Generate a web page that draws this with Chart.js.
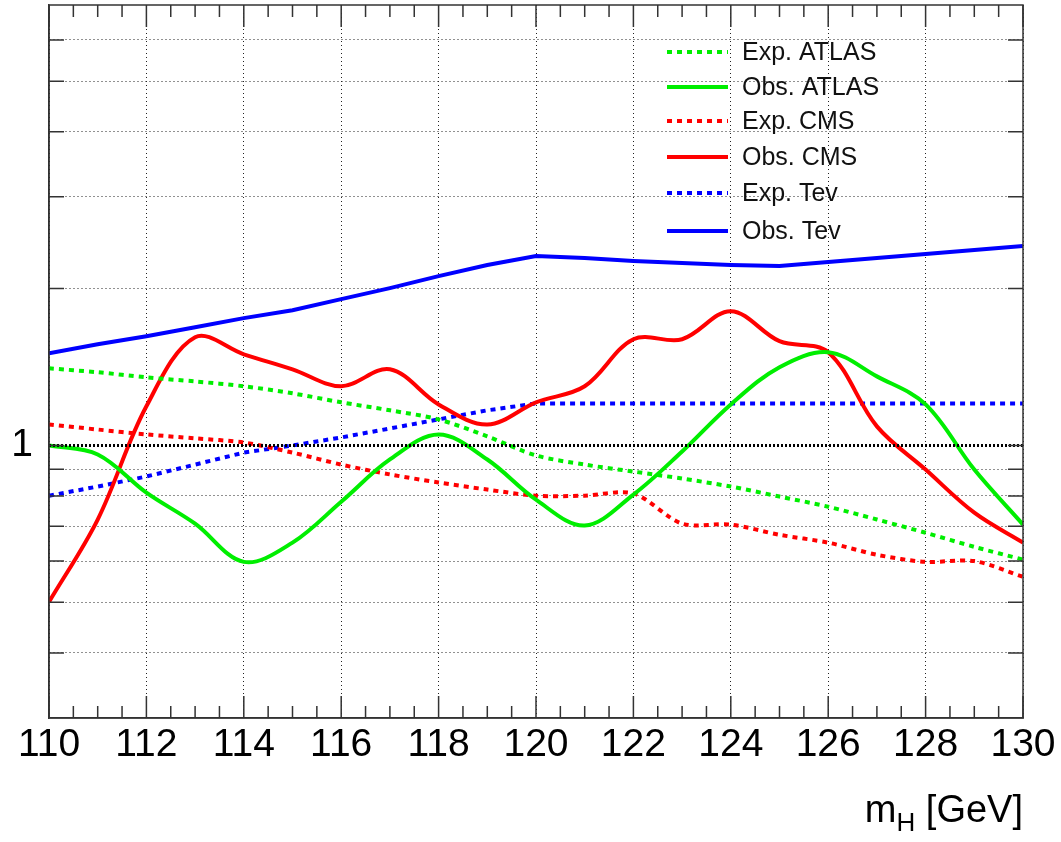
<!DOCTYPE html>
<html>
<head>
<meta charset="utf-8">
<script src="https://cdn.jsdelivr.net/npm/chart.js@4.4.1/dist/chart.umd.min.js"></script>
<style>
html,body{margin:0;padding:0;background:#fff}
canvas{display:block}
</style>
</head>
<body>
<canvas id="c" width="1061" height="842"></canvas>
<script>
// Higgs mass points (GeV)
const MASS = [110,111,112,113,114,115,116,117,118,119,120,121,122,123,124,125,126,127,128,129,130];

const EXP_ATLAS = [1.406,1.382,1.351,1.327,1.299,1.259,1.210,1.168,1.122,1.041,0.957,0.919,0.891,0.864,0.834,0.798,0.763,0.721,0.680,0.639,0.604];
const OBS_ATLAS = [1.000,0.961,0.812,0.708,0.598,0.651,0.780,0.940,1.050,0.940,0.787,0.702,0.805,0.974,1.199,1.413,1.510,1.357,1.199,0.899,0.705];
const EXP_CMS   = [1.097,1.073,1.050,1.032,1.013,0.969,0.919,0.880,0.849,0.823,0.801,0.801,0.809,0.708,0.705,0.674,0.651,0.617,0.598,0.600,0.560];
const OBS_CMS   = [0.501,0.721,1.189,1.613,1.496,1.400,1.299,1.400,1.199,1.097,1.210,1.299,1.599,1.599,1.810,1.585,1.510,1.088,0.899,0.743,0.651];
const EXP_TEV   = [0.801,0.834,0.872,0.919,0.969,1.000,1.036,1.078,1.122,1.168,1.204,1.204,1.204,1.204,1.204,1.204,1.204,1.204,1.204,1.204,1.204];
const OBS_TEV   = [1.503,1.564,1.620,1.686,1.755,1.818,1.909,2.004,2.113,2.220,2.310,2.289,2.259,2.239,2.220,2.209,2.249,2.289,2.330,2.371,2.414];

const REF_LEVEL = 1;
const Y_TICKS = [0.4,0.5,0.6,0.7,0.8,0.9,1,2,3,4,5,6];
const X_LABEL = ['m','H',' [GeV]'];

const FONT = '"Liberation Sans", Arial, Helvetica, sans-serif';
const GREEN = '#00ee00', RED = '#ff0000', BLUE = '#0000ff';

function pts(arr){ return MASS.map((m,i)=>({x:m,y:arr[i]})) }

const series = [
  {label:'Exp. ATLAS', data:pts(EXP_ATLAS), borderColor:GREEN, borderDash:[5,5], tension:0.3},
  {label:'Obs. ATLAS', data:pts(OBS_ATLAS), borderColor:GREEN, tension:0.35},
  {label:'Exp. CMS',   data:pts(EXP_CMS),   borderColor:RED, borderDash:[5,5], tension:0.3},
  {label:'Obs. CMS',   data:pts(OBS_CMS),   borderColor:RED, tension:0.35},
  {label:'Exp. Tev',   data:pts(EXP_TEV),   borderColor:BLUE, borderDash:[5,5], tension:0},
  {label:'Obs. Tev',   data:pts(OBS_TEV),   borderColor:BLUE, tension:0}
];
series.forEach(s=>{ s.borderWidth=4; s.pointRadius=0; s.fill=false; s.borderCapStyle='butt'; });

// black dotted reference line at 1
const refLine = {label:'', data:[{x:MASS[0],y:REF_LEVEL},{x:MASS[MASS.length-1],y:REF_LEVEL}],
  borderColor:'#000', borderWidth:3, borderDash:[2,2], pointRadius:0, fill:false};

// frame, inward ticks, legend and axis title
const decor = {
  id:'decor',
  afterDraw(chart){
    const ctx = chart.ctx, a = chart.chartArea;
    const xs = chart.scales.x, ys = chart.scales.y;
    ctx.save();
    ctx.strokeStyle = '#333'; ctx.lineWidth = 1.5; ctx.setLineDash([]);
    ctx.strokeRect(a.left, a.top, a.right-a.left, a.bottom-a.top);
    ctx.beginPath();
    for(let v=110; v<=130; v+=0.5){
      const px = xs.getPixelForValue(v);
      const len = (v%2===0) ? 22 : 12;
      ctx.moveTo(px, a.bottom); ctx.lineTo(px, a.bottom-len);
      ctx.moveTo(px, a.top); ctx.lineTo(px, a.top+len);
    }
    Y_TICKS.forEach(v=>{
      const py = ys.getPixelForValue(v);
      ctx.moveTo(a.left, py); ctx.lineTo(a.left+15, py);
      ctx.moveTo(a.right, py); ctx.lineTo(a.right-15, py);
    });
    ctx.stroke();

    // legend
    const rows = [52,87,121,157,193,231];
    ctx.font = '25px '+FONT; ctx.textBaseline = 'middle'; ctx.fillStyle = '#111';
    series.forEach((s,i)=>{
      const y = rows[i];
      ctx.strokeStyle = s.borderColor; ctx.lineWidth = 4;
      ctx.setLineDash(s.borderDash || []);
      ctx.beginPath(); ctx.moveTo(667,y); ctx.lineTo(728,y); ctx.stroke();
      ctx.fillText(s.label, 742, y+1);
    });
    ctx.setLineDash([]);

    // x axis title with subscript, right aligned
    const big = '38px '+FONT, small = '26px '+FONT;
    ctx.textBaseline = 'alphabetic'; ctx.fillStyle = '#000';
    ctx.font = big; const w0 = ctx.measureText(X_LABEL[0]).width, w2 = ctx.measureText(X_LABEL[2]).width;
    ctx.font = small; const w1 = ctx.measureText(X_LABEL[1]).width;
    let x = a.right - (w0+w1+w2), base = 822;
    ctx.font = big; ctx.fillText(X_LABEL[0], x, base); x += w0;
    ctx.font = small; ctx.fillText(X_LABEL[1], x, base+9); x += w1;
    ctx.font = big; ctx.fillText(X_LABEL[2], x, base);
    ctx.restore();
  }
};

new Chart(document.getElementById('c'), {
  type:'line',
  data:{datasets:[refLine, ...series]},
  options:{
    responsive:false, animation:false, devicePixelRatio:1,
    layout:{padding:{top:5,right:38,left:0,bottom:0}},
    plugins:{legend:{display:false}, tooltip:{enabled:false}},
    scales:{
      x:{
        type:'linear', min:110, max:130,
        ticks:{stepSize:2, color:'#000', font:{family:FONT,size:39}, padding:4, maxRotation:0},
        grid:{color:'#222', lineWidth:1, drawTicks:false},
        border:{display:true, color:'#333', width:1.5, dash:[1,3]},
        afterFit(s){ s.height = 124; s.paddingLeft = 0; s.paddingRight = 0; }
      },
      y:{
        type:'logarithmic', min:0.3, max:7,
        afterBuildTicks(s){ s.ticks = Y_TICKS.map(v=>({value:v})) },
        ticks:{color:'#000', font:{family:FONT,size:39}, padding:16,
          callback:(v)=> v===1 ? '1' : ''},
        grid:{color:'#222', lineWidth:1, drawTicks:false},
        border:{display:true, color:'#333', width:1.5, dash:[1,3]},
        afterFit(s){ s.width = 49; s.paddingTop = 0; s.paddingBottom = 0; }
      }
    }
  },
  plugins:[decor]
});
</script>
</body>
</html>
